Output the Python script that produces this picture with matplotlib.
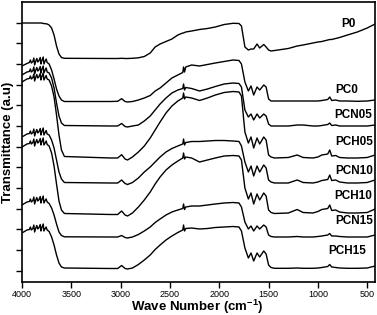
import matplotlib
matplotlib.use("Agg")
import matplotlib.pyplot as plt
import numpy as np

plt.rcParams['font.family'] = ['Liberation Sans', 'DejaVu Sans']
plt.rcParams['mathtext.fontset'] = 'custom'
plt.rcParams['mathtext.rm'] = 'Liberation Sans'
plt.rcParams['mathtext.bf'] = 'Liberation Sans:bold'

# wavenumber grid shared by all spectra (cm-1)
wn = [4000, 3950, 3925, 3915, 3905, 3890, 3880, 3872, 3860, 3850,
      3840, 3830, 3815, 3808, 3800, 3785, 3778, 3765, 3755, 3745,
      3725, 3700, 3675, 3650, 3625, 3600, 3570, 3100, 3030, 2990,
      2955, 2930, 2880, 2820, 2760, 2700, 2650, 2600, 2540, 2480,
      2420, 2370, 2362, 2352, 2340, 2280, 2200, 2120, 2040, 1950,
      1860, 1800, 1775, 1740, 1705, 1678, 1651, 1617, 1590, 1549,
      1525, 1500, 1475, 1440, 1300, 1210, 1150, 1050, 1000, 960,
      900, 880, 860, 820, 780, 700, 600, 500, 420]

# transmittance (a.u., offset stacked)
P0 = [259, 259, 259, 259, 259, 259, 259, 259, 259, 259,
      259, 259, 259, 259, 259, 258.5, 258.5, 258.3, 258.2, 258,
      257, 254, 247, 236, 228, 224.5, 223.7, 223.5, 223.5, 223.7,
      223.5, 223.5, 223.7, 224.2, 225.5, 229, 235, 238, 240.5, 243,
      247, 249, 249, 249.5, 250, 251, 252.5, 253.5, 255, 257.5,
      258.7, 258.5, 256, 235, 232, 233, 233, 238, 234, 237.5,
      235, 232, 231, 231.5, 233.5, 236, 237, 239, 240, 240.5,
      242, 242.5, 242.5, 243.5, 244.5, 247, 250, 254, 258]
PC0 = [216, 218.5, 219.5, 222, 219, 220.5, 224, 217, 221, 223.5,
       220, 221, 224.5, 218, 221, 225, 218, 221, 223, 219.5,
       218, 212, 203, 193, 186, 182, 180.5, 180.5, 180.7, 183.3,
       180.5, 180, 180.5, 182, 184, 186.5, 191, 194, 199, 204,
       207, 209.5, 215, 210, 215, 217, 216, 217.5, 219, 220.5,
       222, 221.5, 218, 200, 191, 196, 187, 195, 192, 197,
       195, 183, 181, 181, 181, 181, 181, 181, 181, 181.5,
       182.5, 185, 181.5, 182, 181, 181, 180.7, 181, 182]
PCN05 = [207, 210, 210.5, 213, 210, 211.5, 215, 208, 212, 214.5,
         211, 212, 215.5, 209, 212, 216, 209, 212, 214, 210,
         209, 204, 194, 179, 166, 159, 156.5, 156, 156, 158.5,
         155.5, 155, 156, 157, 161, 166, 172, 178, 184, 189,
         192, 193.5, 198, 192, 194.5, 193.5, 191, 193, 195.5, 198,
         199, 198.5, 195, 172, 165, 168, 162, 168, 164, 168,
         166, 158, 156, 156, 156, 157, 157, 156, 156, 156.5,
         157.5, 159, 156.5, 157, 156, 156, 156, 156, 157]
PCH05 = [200, 203, 203.5, 206, 203, 204.5, 208, 201, 205, 207.5,
         204, 205, 208.5, 202, 205, 209, 202, 204.5, 206.5, 203,
         202, 196, 185, 167, 147, 132, 125.5, 124, 124, 127.3,
         123, 122, 125, 130, 136, 144, 152, 160, 169, 176,
         181, 184, 189, 183, 185, 184, 181.5, 184, 187, 189.5,
         190.5, 190, 186, 150, 139, 145, 134, 144, 138, 145,
         142, 127, 125, 124, 124.5, 127, 124.5, 124, 125, 127,
         128, 132, 126, 126.5, 124.5, 124, 124, 124.5, 127]
PCN10 = [145, 148, 148.5, 151, 148, 149.5, 153, 146, 150, 152.5,
         149, 150, 153.5, 147, 150, 154, 147, 149.5, 151.5, 148,
         147, 142, 134, 122, 110, 103, 99.5, 99, 99, 102,
         98.5, 97.5, 99.5, 104, 110, 115, 120, 125, 130, 133.5,
         136, 138, 143, 137, 139.5, 140.5, 140.5, 141, 141.5, 141.5,
         141, 140.5, 136, 120, 110, 116, 106, 116, 110, 117,
         114, 102, 100, 99, 99, 102, 99.5, 99, 100, 101.5,
         102.5, 107, 101.5, 102, 100, 99, 99, 99.5, 102]
PCH10 = [135, 138, 138.5, 141, 138, 139.5, 143, 136, 140, 142.5,
         139, 140, 143.5, 137, 140, 144, 137, 139, 141, 137.5,
         136, 129, 116, 98, 81, 72, 68.5, 67.5, 67.5, 71,
         67, 66, 69, 75, 82, 90, 98, 105, 112, 117,
         121, 124, 129, 123, 125, 124, 120, 122, 124, 126,
         126.5, 126, 122, 94, 83, 89, 78, 88, 82, 89,
         86, 72, 69.5, 68.5, 69, 72.5, 69.5, 69, 70.5, 72.5,
         73.5, 77, 71.5, 72, 70, 69, 69, 69.5, 73]
PCN15 = [77, 80, 80.5, 83, 80, 81.5, 85, 78, 82, 84.5,
         81, 82, 85.5, 79, 82, 86, 79, 81.5, 83, 80,
         78.5, 74, 67, 58, 50, 46.5, 45.2, 45, 45, 46.5,
         44.5, 44, 45, 47.5, 51, 55, 59.5, 63, 67, 70,
         72, 73.5, 78, 72.5, 75, 76, 76, 77, 78, 79,
         79.5, 79, 75, 60, 53, 56, 51, 56, 53, 57,
         55, 47, 45.5, 45, 45, 45.5, 45, 45, 45.5, 46,
         47, 48.5, 46, 46, 45.5, 45, 45, 45, 47]
PCH15 = [49, 52, 52.5, 55, 52, 53.5, 57, 50, 54, 56.5,
         53, 54, 57.5, 51, 54, 58, 51, 53.5, 55, 52,
         50.5, 45, 37, 27, 19, 15, 14, 13.5, 13.5, 16.5,
         13.5, 13, 14, 17.5, 22, 27, 32.5, 37, 42, 46,
         49.5, 52, 57, 51, 53.5, 54, 53, 53.5, 54.5, 55,
         55.5, 55, 51, 34, 24, 29, 21, 29, 25, 31,
         28, 17, 14.5, 13.7, 13.7, 14, 13.7, 13.7, 14, 14.5,
         15.5, 17.5, 15, 14.5, 14, 13.7, 13.7, 14, 16]

names = ['P0', 'PC0', 'PCN05', 'PCH05', 'PCN10', 'PCH10', 'PCN15', 'PCH15']
spectra = [P0, PC0, PCN05, PCH05, PCN10, PCH10, PCN15, PCH15]
xticks = [4000, 3500, 3000, 2500, 2000, 1500, 1000, 500]

fig = plt.figure(figsize=(3.77, 3.15), dpi=100)
ax = fig.add_axes([22 / 377, 33 / 315, 353 / 377, 280 / 315])

for s in spectra:
    ax.plot(wn, s, color='black', lw=1.0)

# label placement (wavenumber, transmittance) next to each trace
label_pos = [(691, 257.8), (704, 192), (641, 167), (636, 140),
             (630, 111), (641, 86), (634, 61), (704, 31)]
for name, (lx, ly) in zip(names, label_pos):
    ax.text(lx, ly, name, ha='center', va='center', fontsize=8.5, fontweight='bold')

ax.set_xlim(4000, 421)
ax.set_ylim(0, 280)
ax.set_xticks(xticks)
ax.set_xticklabels([str(t) for t in xticks], fontsize=6.5)
ax.set_yticks(np.arange(11.3, 270, 20.67))
ax.set_yticklabels([])
ax.tick_params(axis='both', direction='out', length=4, width=1.0, pad=1.5)
for sp in ax.spines.values():
    sp.set_linewidth(1.2)

ax.set_xlabel('Wave Number (cm$^{\\mathbf{-1}}$)', fontsize=9.5, fontweight='bold', va='center')
ax.xaxis.set_label_coords(0.496, -0.088)
ax.set_ylabel('Transmittance (a.u)', fontsize=9.5, fontweight='bold', va='center')
ax.yaxis.set_label_coords(-0.041, 0.5)

fig.savefig('out.png', dpi=100)
